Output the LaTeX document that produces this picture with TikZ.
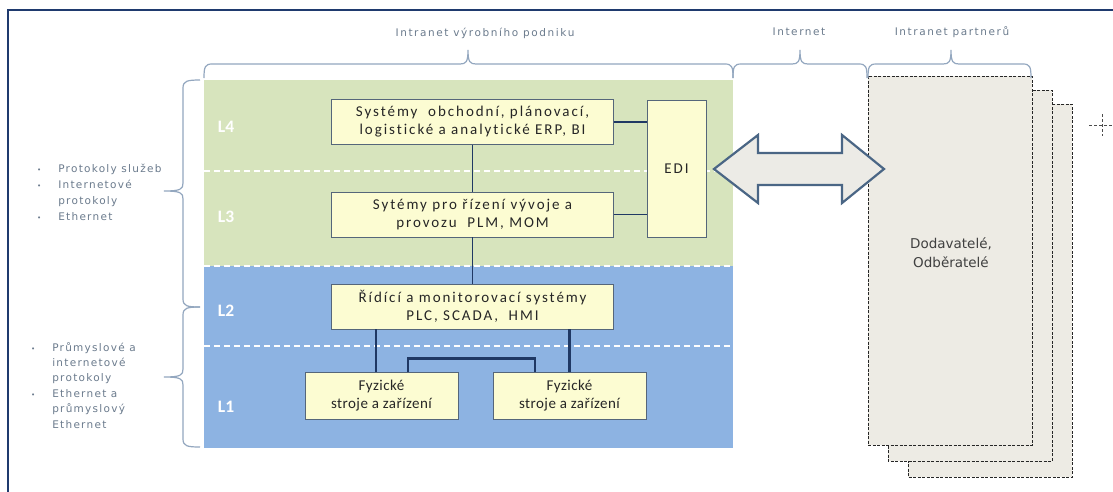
\documentclass[tikz,border=0pt]{standalone}
\usepackage{fontspec}
\setmainfont{Carlito}
\newfontfamily\labelfont{DejaVu Sans}
\newfontfamily\toplabelfont[LetterSpace=15]{DejaVu Sans}
\newfontfamily\sidelabelfont[LetterSpace=12]{DejaVu Sans}
\newfontfamily\sysfont[LetterSpace=13,Ligatures=NoCommon]{Carlito}
\newfontfamily\devfont[LetterSpace=3,Ligatures=NoCommon]{Carlito}
\usetikzlibrary{calc}

\definecolor{framenavy}{HTML}{1F3A6E}
\definecolor{layergreen}{HTML}{D7E4BD}
\definecolor{layerblue}{HTML}{8DB3E2}
\definecolor{boxfill}{HTML}{FCFCD2}
\definecolor{boxline}{HTML}{55667A}
\definecolor{linknavy}{HTML}{1F3864}
\definecolor{bracegray}{HTML}{93A7BF}
\definecolor{labelgray}{HTML}{6B7B8D}
\definecolor{sheetfill}{HTML}{EDEBE4}
\definecolor{arrowline}{HTML}{4A6685}
\definecolor{arrowfill}{HTML}{ECEBE6}

% curly brace opening downwards: left x, right x, tip x
\newcommand\topbrace[3]{%
  \draw[bracestroke] (#1,78) .. controls (#1,67) and (#1+1,64) .. (#1+8,64)
    -- (#3-8,64) .. controls (#3-2,64) and (#3,62) .. (#3,50)
    .. controls (#3,62) and (#3+2,64) .. (#3+8,64)
    -- (#2-8,64) .. controls (#2-1,64) and (#2,67) .. (#2,78);}
% curly brace opening to the right: top y, bottom y, tip y
\newcommand\sidebrace[3]{%
  \draw[bracestroke] (200,#1) .. controls (187,#1) and (183,#1+1) .. (183,#1+8)
    -- (183,#3-8) .. controls (183,#3-2) and (181,#3) .. (164,#3)
    .. controls (181,#3) and (183,#3+2) .. (183,#3+8)
    -- (183,#2-8) .. controls (183,#2-1) and (187,#2) .. (200,#2);}
\newcommand\dotmark{{\labelfont\fontsize{7}{7}\selectfont •}}

\begin{document}
\begin{tikzpicture}[x=1pt,y=-1pt,
  bracestroke/.style={draw=bracegray,line width=1.2pt},
  sysbox/.style={draw=boxline,line width=0.8pt,fill=boxfill,align=center,
    inner sep=0pt,font=\sysfont\fontsize{15}{18}\selectfont,text=black!85},
  devbox/.style={sysbox,font=\devfont\fontsize{15}{18}\selectfont},
  layertag/.style={text=white,font=\bfseries\fontsize{17.5}{17.5}\selectfont},
  divider/.style={draw=white,line width=1.1pt,dash pattern=on 6pt off 4pt},
  link/.style={draw=linknavy,line width=1.2pt},
  buslink/.style={draw=linknavy,line width=2.6pt},
  toplabel/.style={text=labelgray,font=\toplabelfont\fontsize{10.5}{12}\selectfont},
  sidelabel/.style={text=labelgray,align=left,inner sep=0pt},
  sheet/.style={draw=black!85,fill=sheetfill,line width=0.9pt,dash pattern=on 3pt off 1.5pt},
]
\useasboundingbox (0,0) rectangle (1113,491);
\fill[white] (0,0) rectangle (1113,491);
\begin{scope}
\clip (0,0) rectangle (1113,491);
\draw[framenavy,line width=2pt] (8,500) -- (8,10) -- (1120,10);
\end{scope}

% protocol layers
\fill[layergreen] (204,80) rectangle (733,266);
\fill[layerblue] (204,266) rectangle (733,448);
\draw[divider] (204,171) -- (733,171);
\draw[divider] (204,266) -- (733,266);
\draw[divider] (204,346) -- (733,346);

\node[layertag] (l4) at (226,127) {L4};
\node[layertag] (l3) at (226,217) {L3};
\node[layertag] (l2) at (226,311) {L2};
\node[layertag] (l1) at (226,407) {L1};

% partner intranets, stacked
\draw[sheet] (908,104) rectangle (1072,477);
\draw[sheet] (888,90) rectangle (1052,461);
\draw[sheet] (868,76) rectangle (1032,445);
\node[text=black!75,align=center,font=\labelfont\fontsize{13.5}{19}\selectfont] (partners) at (951,253) {Dodavatelé,\\Odběratelé};

% exchange over the internet
\filldraw[draw=arrowline,fill=arrowfill,line width=2.2pt,line join=miter]
  (714,169) -- (758,135) -- (758,153) -- (842,153) -- (842,135) -- (884,169)
  -- (842,203) -- (842,185) -- (758,185) -- (758,203) -- cycle;

% systems
\node[sysbox,minimum width=282pt,minimum height=45pt] (erp) at (472.5,122)
  {Systémy\ \ obchodní, plánovací,\\logistické a analytické ERP, BI};
\node[sysbox,minimum width=282pt,minimum height=45pt] (plm) at (472.5,214.5)
  {Sytémy pro řízení vývoje a\\provozu\ \ PLM, MOM};
\node[sysbox,minimum width=59pt,minimum height=137pt] (edi) at (676.5,168.5) {EDI};
\node[sysbox,minimum width=282pt,minimum height=45pt] (scada) at (472.5,306.5)
  {Řídící a monitorovací systémy\\PLC, SCADA,\ \ HMI};
\node[devbox,minimum width=153pt,minimum height=47pt] (dev1) at (381.5,395.5)
  {Fyzické\\stroje a zařízení};
\node[devbox,minimum width=153pt,minimum height=47pt] (dev2) at (569.5,395.5)
  {Fyzické\\stroje a zařízení};

% connections
\draw[link] (erp.south) -- (plm.north);
\draw[link] (plm.south) -- (scada.north);
\draw[link] (erp.east) -- (erp.east -| edi.west);
\draw[link] (plm.east) -- (plm.east -| edi.west);
\draw[buslink] ([xshift=-5.5pt]dev1.north) -- ([xshift=-5.5pt]dev1.north |- scada.south);
\draw[buslink] (dev2.north) -- (dev2.north |- scada.south);
\draw[buslink] ([xshift=26.5pt]dev1.north) -- ++(0,-13) -| ([xshift=-34.5pt]dev2.north);

% network scopes
\topbrace{204}{733}{468}
\topbrace{733}{867}{800}
\topbrace{868}{1031}{951}
\node[toplabel] (scope1) at (485,33) {Intranet výrobního podniku};
\node[toplabel] (scope2) at (799,32) {Internet};
\node[toplabel] (scope3) at (952,32) {Intranet partnerů};

% protocols per layer group
\sidebrace{80}{307}{191}
\sidebrace{307}{447}{377}
\node[sidelabel,anchor=west,font=\sidelabelfont\fontsize{10.5}{16}\selectfont] (proto1) at (37,193)
  {\begin{tabular}{@{}l@{\hspace{17pt}}l@{}}
   \dotmark&Protokoly služeb\\
   \dotmark&Internetové\\
   &protokoly\\
   \dotmark&Ethernet
   \end{tabular}};
\node[sidelabel,anchor=west,font=\sidelabelfont\fontsize{10.5}{15.4}\selectfont] (proto2) at (31,386.5)
  {\begin{tabular}{@{}l@{\hspace{17pt}}l@{}}
   \dotmark&Průmyslové a\\
   &internetové\\
   &protokoly\\
   \dotmark&Ethernet a\\
   &průmyslový\\
   &Ethernet
   \end{tabular}};

% layout marker
\draw[black!70,line width=0.8pt,dash pattern=on 3pt off 2pt] (1089,125) -- (1113,125);
\draw[black!70,line width=0.8pt,dash pattern=on 3pt off 2pt] (1102,114) -- (1102,136);
\end{tikzpicture}
\end{document}
